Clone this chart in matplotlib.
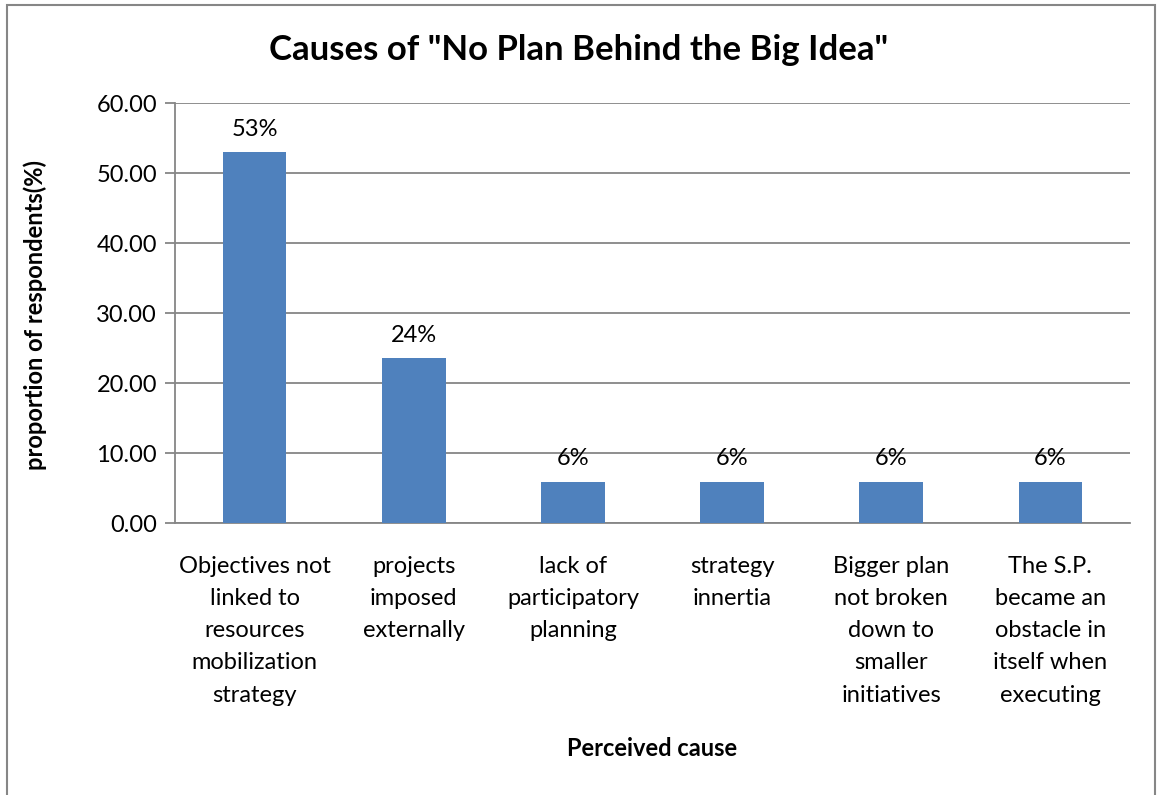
import matplotlib.pyplot as plt
from matplotlib.patches import Rectangle

# data
causes = ['Objectives not\nlinked to\nresources\nmobilization\nstrategy',
          'projects\nimposed\nexternally',
          'lack of\nparticipatory\nplanning',
          'strategy\ninnertia',
          'Bigger plan\nnot broken\ndown to\nsmaller\ninitiatives',
          'The S.P.\nbecame an\nobstacle in\nitself when\nexecuting']
proportions = [52.94, 23.53, 5.88, 5.88, 5.88, 5.88]
bar_labels = ['53%', '24%', '6%', '6%', '6%', '6%']
y_ticks = [0, 10, 20, 30, 40, 50, 60]

plt.rcParams['font.family'] = ['Lato', 'DejaVu Sans']

fig = plt.figure(figsize=(11.58, 7.95), dpi=100)
ax = fig.add_axes([175 / 1158, 1 - 523 / 795, (1130 - 175) / 1158, (523 - 103) / 795])

x = range(len(causes))
ax.bar(x, proportions, width=0.4, color='#4f81bd', zorder=3)

for i, (v, lab) in enumerate(zip(proportions, bar_labels)):
    ax.annotate(lab, (i, v), xytext=(0, 9), textcoords='offset points',
                ha='center', va='bottom', fontsize=17)

ax.set_xlim(-0.5, len(causes) - 0.5)
ax.set_ylim(0, 60)
ax.set_yticks(y_ticks)
ax.set_yticklabels(['%.2f' % t for t in y_ticks], fontsize=17)
ax.set_xticks(list(x))
ax.set_xticklabels(causes, fontsize=17, linespacing=1.65)
ax.tick_params(axis='x', length=0, pad=24)
ax.tick_params(axis='y', length=7, color='#868686', width=1.3, pad=6)

ax.yaxis.grid(True, color='#868686', linewidth=1.3, zorder=0)
for s in ['top', 'right']:
    ax.spines[s].set_visible(False)
for s in ['left', 'bottom']:
    ax.spines[s].set_color('#868686')
    ax.spines[s].set_linewidth(1.3)

ax.set_xlabel('Perceived cause', fontsize=17, fontweight='bold')
ax.xaxis.set_label_coords(0.5, (523 - 748) / 420)
ax.xaxis.label.set_va('center')
ax.set_ylabel('proportion of respondents(%)', fontsize=17, fontweight='bold')
ax.yaxis.set_label_coords((35 - 175) / 955, (523 - 315) / 420)
ax.yaxis.label.set_va('center')
fig.text(0.5, 1 - 50 / 795, 'Causes of "No Plan Behind the Big Idea"',
         ha='center', va='center', fontsize=25, fontweight='bold')

# outer chart border
fig.patches.append(Rectangle((7 / 1158, -0.02), (1155 - 7) / 1158, 1.02 - 5 / 795,
                             transform=fig.transFigure, fill=False,
                             edgecolor='#868686', linewidth=1.5))

fig.savefig('out.png', dpi=100)
